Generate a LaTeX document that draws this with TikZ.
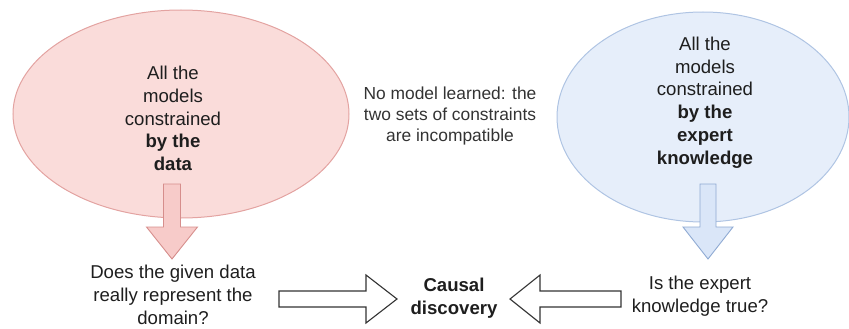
\documentclass[tikz,border=0pt]{standalone}
\usepackage{fontspec}
\setmainfont{Liberation Sans}
\begin{document}
\definecolor{redfill}{HTML}{FADCDA}
\definecolor{redline}{HTML}{E3A3A1}
\definecolor{redarrowfill}{HTML}{F7CBC9}
\definecolor{redarrowline}{HTML}{D68E8C}
\definecolor{bluefill}{HTML}{E6EEFA}
\definecolor{blueline}{HTML}{AFC4E3}
\definecolor{bluearrowfill}{HTML}{DAE6F8}
\definecolor{bluearrowline}{HTML}{8FAAD3}
\definecolor{ink}{HTML}{1E1E1E}
\definecolor{softink}{HTML}{333333}
\begin{tikzpicture}[x=1pt,y=-1pt,
  label text/.style={align=center,text=ink,inner sep=0pt,
    font=\fontsize{18.6}{22.8}\selectfont},
  note text/.style={align=center,text=softink,inner sep=0pt,
    font=\fontsize{17.4}{21}\selectfont},
  hollow arrow/.style={draw=softink,fill=white,line width=1.1pt,line join=miter},
]
\useasboundingbox (0,0) rectangle (849,329);

% constraint sets
\draw[fill=redfill,draw=redline,line width=1pt] (181,114) ellipse [x radius=168,y radius=104];
\draw[fill=bluefill,draw=blueline,line width=1pt] (703,117) ellipse [x radius=146,y radius=105];

\node[label text] (data) at (173,118.5)
  {All the\\models\\constrained\\\textbf{by the}\\\textbf{data}};
\node[label text] (expert) at (705,102.5)
  {All the\\models\\constrained\\\textbf{by the}\\\textbf{expert}\\\textbf{knowledge}};

\node[note text] (conflict) at (450,116)
  {No model learned: the\\two sets of constraints\\are incompatible};

% downward block arrows
\draw[fill=redarrowfill,draw=redarrowline,line width=0.9pt,line join=miter]
  (163.5,184) -- (180.5,184) -- (180.5,227) -- (197.5,227) -- (172,259)
  -- (146.5,227) -- (163.5,227) -- cycle;
\draw[fill=bluearrowfill,draw=bluearrowline,line width=0.9pt,line join=miter]
  (700,184) -- (716,184) -- (716,227) -- (733,227) -- (708,259)
  -- (683,227) -- (700,227) -- cycle;

% questions and result
\node[label text] (q1) at (173,295)
  {Does the given data\\really represent the\\domain?};
\node[label text] (q2) at (700,296.5)
  {Is the expert\\knowledge true?};
\node[label text,font=\fontsize{18.6}{23}\selectfont\bfseries] (cd) at (454,298.5)
  {Causal\\discovery};

% hollow arrows into the result
\draw[hollow arrow]
  (279,291) -- (366,291) -- (366,275) -- (397,299) -- (366,323)
  -- (366,307) -- (279,307) -- cycle;
\draw[hollow arrow]
  (621,291) -- (540,291) -- (540,275) -- (510,299) -- (540,323)
  -- (540,307) -- (621,307) -- cycle;
\end{tikzpicture}
\end{document}
